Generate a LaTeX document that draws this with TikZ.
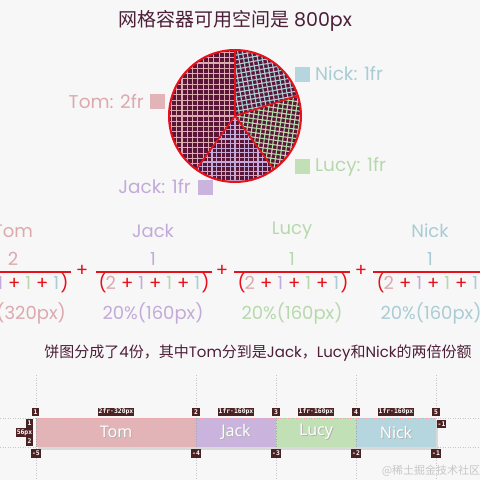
\documentclass[tikz,border=0pt]{standalone}
\usepackage{fontspec}
\setmainfont{Poppins}
\setsansfont{Open Sans}
\setmonofont{DejaVu Sans Mono}
\newfontfamily\cjk{Noto Sans CJK SC}
\definecolor{bg}{HTML}{F7F7F7}
\definecolor{maroon}{HTML}{5A1636}
\definecolor{titlec}{HTML}{4C1E38}
\definecolor{redc}{HTML}{E8101A}
\definecolor{tomc}{HTML}{DCA9AE}
\definecolor{jackc}{HTML}{C3AAD9}
\definecolor{lucyc}{HTML}{B6D9AC}
\definecolor{nickc}{HTML}{A9CCD5}
\definecolor{tomf}{HTML}{E3B4B7}
\definecolor{jackf}{HTML}{CAB3DD}
\definecolor{lucyf}{HTML}{C2E0B5}
\definecolor{nickf}{HTML}{B5D6DF}
\definecolor{tagc}{HTML}{4A2224}
\newcommand\piesector[5]{%
  \begin{scope}
    \clip (0,0) -- (#1:66) arc[start angle=#1, end angle=#2, radius=66] -- cycle;
    \fill[maroon] (-70,-70) rectangle (70,70);
    \draw[#3, line width=1.1pt, rotate=#5] (-90,-90) grid[step=#4pt] (90,90);
  \end{scope}}
\newcommand\pl{\hspace{5pt}\textcolor{redc}{+}\hspace{5pt}}
\newcommand\den{\textcolor{redc}{(}\kern-1pt\textcolor{tomc}{2}\pl\textcolor{jackc}{1}\pl\textcolor{lucyc}{1}\pl\textcolor{nickc}{1}\kern1pt\textcolor{redc}{)}}
\newcommand\shtext[1]{\rlap{\raisebox{-1pt}{\kern1pt\textcolor{black!30}{#1}}}#1}
\tikzset{
  lbl/.style={font=\fontsize{18}{20}\selectfont, inner sep=0pt},
  leg/.style={font=\fontsize{18.5}{20}\selectfont, inner sep=0pt},
  sq/.style={minimum size=15pt, inner sep=0pt},
  plus/.style={font=\fontsize{18}{20}\selectfont, text=redc, inner sep=0pt},
  fracbar/.style={redc, line width=1.5pt},
  tag/.style={fill=tagc, text=white, font=\ttfamily\bfseries\fontsize{6.4}{7}\selectfont, inner sep=1pt, minimum height=8.5pt, minimum width=7.5pt},
  cell/.style={minimum height=29pt, inner sep=0pt, text=white, font=\sffamily\fontsize{16}{18}\selectfont},
  guide/.style={black!22, dotted, line width=0.5pt},
  divider/.style={black!35, dotted, line width=0.6pt}
}
\begin{document}
\begin{tikzpicture}[x=1pt,y=-1pt]
\useasboundingbox (0,0) rectangle (480,480);
\clip (0,0) rectangle (480,480);
\fill[bg] (0,0) rectangle (480,480);

% title
\node[font=\fontsize{19}{21}\selectfont, text=titlec, inner sep=0pt] (title) at (235,21) {{\cjk 网格容器可用空间是} 800px};

% pie
\begin{scope}[shift={(235,116)}, yscale=-1]
  \piesector{90}{234}{tomc}{5.3}{0}
  \begin{scope}
    \clip (0,0) -- (90:66) arc[start angle=90, end angle=234, radius=66] -- cycle;
    \foreach \i in {0,...,12} \foreach \j in {0,...,24} {
      \pgfmathparse{int(mod(\i+\j,3))}
      \ifnum\pgfmathresult=0
        \fill[tomc!60!white] (-66+\i*5.3+2.65,-66+\j*5.3+2.65) circle (0.7);
      \fi
    }
  \end{scope}
  \piesector{234}{306}{jackc}{4.6}{0}
  \piesector{306}{378}{lucyc}{4.6}{8}
  \piesector{18}{90}{nickc}{4.6}{-10}
  \coordinate (pc) at (0,0);
  \coordinate (a1) at (90:66);
  \coordinate (a2) at (234:66);
  \coordinate (a3) at (306:66);
  \coordinate (a4) at (18:66);
  \draw[redc, line width=1.6pt] (pc) -- (a1) (pc) -- (a2) (pc) -- (a3) (pc) -- (a4);
  \draw[redc, line width=2pt] (pc) circle (66);
\end{scope}

% legends
\node[sq, fill=nickf] (nicksq) at (302,74.5) {};
\node[leg, text=nickc, anchor=west] (nickl) at (315,74) {Nick: 1fr};
\node[sq, fill=tomf] (tomsq) at (157,101.5) {};
\node[leg, text=tomc, anchor=east] (toml) at (144,102) {Tom: 2fr};
\node[sq, fill=lucyf] (lucysq) at (302,166.5) {};
\node[leg, text=lucyc, anchor=west] (lucyl) at (315,167) {Lucy: 1fr};
\node[sq, fill=jackf] (jacksq) at (205.5,187.5) {};
\node[leg, text=jackc, anchor=east] (jackl) at (191,187) {Jack: 1fr};

% fractions
\node[lbl, text=tomc] (tomn) at (13,231) {Tom};
\node[lbl, text=tomc] (tomnum) at (13,259) {2};
\draw[fracbar] (-45,272) -- (71,272);
\node[lbl] (tomden) at (13,283) {\den};
\node[lbl, text=tomc] (tompct) at (13,313) {40\%(320px)};

\node[plus] (p1) at (82,271) {+};

\node[lbl, text=jackc] (jackn) at (153,231) {Jack};
\node[lbl, text=jackc] (jacknum) at (153,259) {1};
\draw[fracbar] (96,272) -- (212,272);
\node[lbl] (jackden) at (154,283) {\den};
\node[lbl, text=jackc] (jackpct) at (153,313) {20\%(160px)};

\node[plus] (p2) at (222,271) {+};

\node[lbl, text=lucyc] (lucyn) at (292,231) {Lucy};
\node[lbl, text=lucyc] (lucynum) at (292,259) {1};
\draw[fracbar] (234,272) -- (350,272);
\node[lbl] (lucyden) at (293,283) {\den};
\node[lbl, text=lucyc] (lucypct) at (292,313) {20\%(160px)};

\node[plus] (p3) at (361,271) {+};

\node[lbl, text=nickc] (nickn) at (430,231) {Nick};
\node[lbl, text=nickc] (nicknum) at (430,259) {1};
\draw[fracbar] (373,272) -- (489,272);
\node[lbl] (nickden) at (432,283) {\den};
\node[lbl, text=nickc] (nickpct) at (431,313) {20\%(160px)};

% sentence
\node[font=\fontsize{15}{17}\selectfont, text=titlec, inner sep=0pt] (note) at (258,353) {{\cjk 饼图分成了}4{\cjk 份，其中}Tom{\cjk 分到是}Jack{\cjk ，}Lucy{\cjk 和}Nick{\cjk 的两倍份额}};

% guides
\foreach \gx in {36,196,276,356,436} \draw[guide] (\gx,375) -- (\gx,480);
\draw[guide] (0,418) -- (480,418);
\draw[guide] (0,447) -- (480,447);

% grid bar
\fill[black!15] (37.5,419.5) rectangle (438,449.5);
\node[cell, fill=tomf, minimum width=160pt] (tom) at (116,432.5) {\shtext{Tom}};
\node[cell, fill=jackf, minimum width=80pt] (jack) at (236,432.5) {\shtext{Jack}};
\node[cell, fill=lucyf, minimum width=80pt] (lucy) at (316,432.5) {\shtext{Lucy}};
\node[cell, fill=nickf, minimum width=80pt] (nick) at (396,432.5) {\shtext{Nick}};
\draw[divider] (tom.north east) -- (tom.south east);
\draw[divider] (jack.north east) -- (jack.south east);
\draw[divider] (lucy.north east) -- (lucy.south east);
\draw[redc!40, dotted, line width=0.6pt] (tom.north west) -- (nick.north east);
\draw[divider] (tom.north west) -- (tom.south west);

% tags
\node[tag] (t1) at (35.5,412) {1};
\node[tag] (t2) at (196,412) {2};
\node[tag] (t3) at (276,412) {3};
\node[tag] (t4) at (356,412) {4};
\node[tag] (t5) at (436,412) {5};
\node[tag] (s1) at (116,412) {2fr·320px};
\node[tag] (s2) at (236,412) {1fr·160px};
\node[tag] (s3) at (316,412) {1fr·160px};
\node[tag] (s4) at (396,412) {1fr·160px};
\node[tag] (b5) at (36,453.5) {-5};
\node[tag] (b4) at (196,453.5) {-4};
\node[tag] (b3) at (276,453.5) {-3};
\node[tag] (b2) at (356,453.5) {-2};
\node[tag] (b1) at (436,453.5) {-1};
\node[tag] (r1) at (29.5,423.5) {1};
\node[tag] (rh) at (24.5,432.5) {56px};
\node[tag] (r2) at (29.5,441.5) {2};
\node[tag] (rr) at (441.5,424) {-1};

% watermark
\node[font=\cjk\fontsize{11}{12}\selectfont, text=black!22, inner sep=0pt] (wm) at (431,471) {@稀土掘金技术社区};
\end{tikzpicture}
\end{document}
